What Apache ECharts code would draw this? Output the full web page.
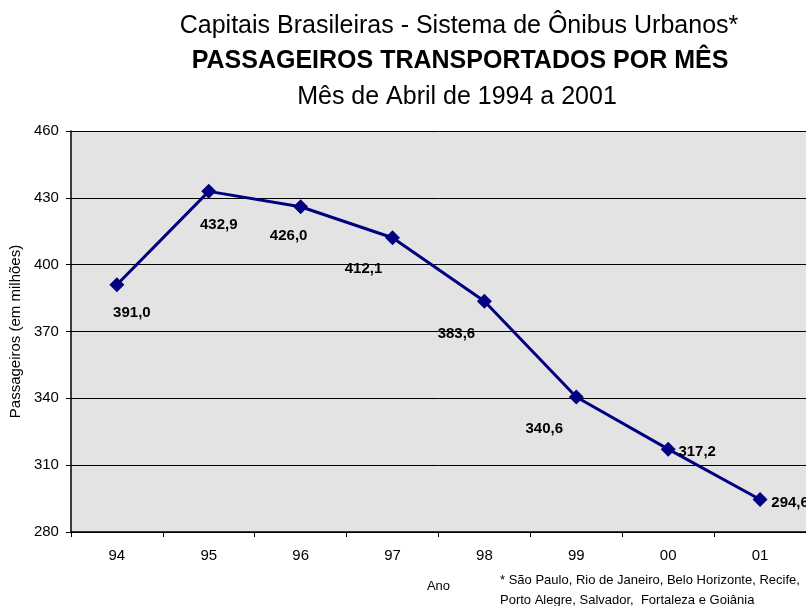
<!DOCTYPE html>
<html><head><meta charset="utf-8">
<script src="https://cdn.jsdelivr.net/npm/echarts@6/dist/echarts.min.js"></script>
<style>html,body{margin:0;padding:0;background:#fff}#c{width:806px;height:606px}</style>
</head><body><div id="c"></div>
<script>
const categories = ['94','95','96','97','98','99','00','01'];
const values = [391.0, 432.9, 426.0, 412.1, 383.6, 340.6, 317.2, 294.6];
const labelOffsets = [[15,28],[10,33],[-12,29],[-29,31],[-28,33],[-32,32],[29,3],[30,3]];
const yTicks = {min:280, max:460, interval:30};

const chart = echarts.init(document.getElementById('c'));
const F = 'Liberation Sans, Arial, sans-serif';
chart.setOption({
  animation:false,
  backgroundColor:'#fff',
  title:[
    {text:'Capitais Brasileiras - Sistema de Ônibus Urbanos*', left:454, top:9, textAlign:'center',
     textStyle:{fontFamily:F,fontSize:25,fontWeight:'normal',color:'#000'}},
    {text:'PASSAGEIROS TRANSPORTADOS POR MÊS', left:455, top:44, textAlign:'center',
     textStyle:{fontFamily:F,fontSize:25,fontWeight:'bold',color:'#000'}},
    {text:'Mês de Abril de 1994 a 2001', left:452, top:80, textAlign:'center',
     textStyle:{fontFamily:F,fontSize:25,fontWeight:'normal',color:'#000'}}
  ],
  grid:{left:70, top:131, right:0, bottom:74, show:true, backgroundColor:'#e3e3e3', borderWidth:0},
  xAxis:{type:'category', data:categories, boundaryGap:true,
    name:'Ano', nameLocation:'middle', nameGap:48,
    nameTextStyle:{fontFamily:F,fontSize:13,color:'#000'},
    axisLine:{lineStyle:{color:'#000',width:1.5}},
    axisTick:{show:true,length:5,lineStyle:{color:'#000'},alignWithLabel:false},
    axisLabel:{fontFamily:F,fontSize:15,color:'#000',margin:16},
    splitLine:{show:false}},
  yAxis:{type:'value', min:yTicks.min, max:yTicks.max, interval:yTicks.interval,
    name:'Passageiros (em milhões)', nameLocation:'middle', nameGap:39,
    nameTextStyle:{fontFamily:F,fontSize:15,color:'#000'},
    axisLine:{show:true,lineStyle:{color:'#000',width:1.5}},
    axisTick:{show:true,length:5,lineStyle:{color:'#000'}},
    axisLabel:{fontFamily:F,fontSize:15,color:'#000',margin:12},
    splitLine:{show:true,lineStyle:{color:'#000',width:1}}},
  series:[{type:'line', data:values.map((v,i)=>({value:v,label:{offset:labelOffsets[i]}})),
    symbol:'diamond', symbolSize:15,
    lineStyle:{color:'#000080',width:3},
    itemStyle:{color:'#000080'},
    label:{show:true, position:'inside', align:'center', verticalAlign:'middle',
      fontFamily:F,fontSize:15,fontWeight:'bold',color:'#000',
      formatter:p=>p.value.toFixed(1).replace('.',',')}}],
  graphic:[
    {type:'text', left:500, top:570, style:{text:'* São Paulo, Rio de Janeiro, Belo Horizonte, Recife,\nPorto Alegre, Salvador,  Fortaleza e Goiânia',
      font:'13px '+F, fill:'#000', lineHeight:20}}
  ]
});
</script></body></html>
